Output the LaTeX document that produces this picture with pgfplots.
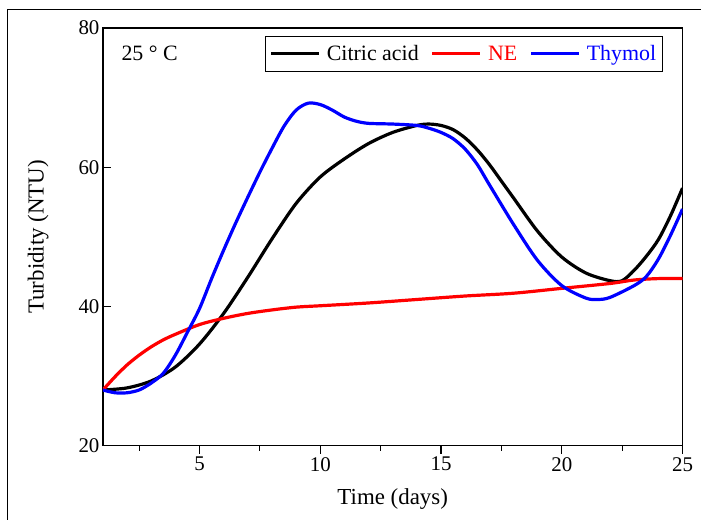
\documentclass[border=0pt]{standalone}
\usepackage{fontspec}
\setmainfont{Liberation Serif}
\usepackage{pgfplots}
\pgfplotsset{compat=1.18}

\begin{document}
\begin{tikzpicture}
\begin{axis}[
    scale only axis,
    width=580bp, height=418bp,
    xmin=1, xmax=25, ymin=20, ymax=80,
    xtick={5,10,15,20,25},
    minor xtick={2.5,7.5,12.5,17.5,22.5},
    ytick={20,40,60,80},
    xtick pos=bottom, ytick pos=left,
    xtick align=outside, ytick align=inside,
    major tick length=8bp, minor tick length=5bp,
    every tick/.style={black, line width=1.2bp},
    axis line style={line width=1.3bp},
    /pgf/number format/assume math mode=true,
    tick label style={font=\fontsize{21}{24}\selectfont},
    label style={font=\fontsize{23}{27}\selectfont},
    xlabel={Time (days)},
    ylabel={Turbidity (NTU)},
    xlabel style={yshift=-10bp},
    ylabel style={yshift=23bp},
    legend columns=3,
    legend style={at={(0.9655,0.981)}, anchor=north east,
        font=\fontsize{22}{25}\selectfont, draw=black, line width=0.8bp,
        inner xsep=4bp, inner ysep=7bp,
        /tikz/every odd column/.append style={column sep=4bp},
        /tikz/every even column/.append style={column sep=10bp}},
    legend image code/.code={\draw[#1, line width=3.5bp] (0bp,0bp) -- (48bp,0bp);},
]
\addplot[black, line width=3.2bp, smooth] coordinates {
(1,28)(2,28.3)(3,29.3)(4,31.3)(5,34.6)(6,39)(7,44.2)(8,49.7)(9,54.8)(10,58.6)
(11,61.2)(12,63.4)(13,65)(14,66)(14.5,66.2)(15,66)(15.5,65.4)(16,64.2)(16.5,62.5)
(17,60.4)(17.5,58)(18,55.6)(19,50.8)(20,47.1)(21,44.8)(22,43.7)(22.5,43.7)
(23,45.2)(23.5,47.2)(24,49.6)(24.5,53)(25,57)
};
\addlegendentry{Citric acid}
\addplot[red, line width=3.2bp, smooth] coordinates {
(1,28)(1.5,29.9)(2,31.6)(2.5,33)(3,34.2)(3.5,35.2)(4,36)(5,37.4)(6,38.3)(7,39)
(8,39.5)(9,39.9)(10,40.1)(12,40.5)(14,41)(16,41.5)(18,41.9)(20,42.6)(22,43.3)
(23,43.8)(24,44)(25,44)
};
\addlegendentry{\textcolor{red}{NE}}
\addplot[blue, line width=3.2bp, smooth] coordinates {
(1,28)(1.5,27.6)(2,27.6)(2.5,28)(3,29)(3.5,30.4)(4,33)(4.5,36.3)(5,39.7)
(5.5,44)(6,48.1)(6.5,52)(7,55.7)(7.5,59.3)(8,62.7)(8.5,65.9)(9,68.2)(9.5,69.2)
(10,69)(10.5,68.2)(11,67.2)(11.5,66.6)(12,66.3)(13,66.2)(14,66)(14.5,65.6)
(15,65)(15.5,64.1)(16,62.6)(16.5,60.4)(17,57.5)(18,51.8)(19,46.6)(20,43)
(21,41.2)(21.5,41)(22,41.3)(23,43)(23.5,44.3)(24,46.8)(24.5,50.2)(25,54)
};
\addlegendentry{\textcolor{blue}{Thymol}}
\node[anchor=west, font=\fontsize{22}{25}\selectfont] at (rel axis cs:0.026,0.94) {25 ° C};
\end{axis}
\draw[line width=1bp] (-95bp,-74bp) -- (-95bp,436bp) -- (598bp,436bp);
\path[use as bounding box] (-103bp,-74bp) rectangle (598bp,446bp);
\end{tikzpicture}
\end{document}
